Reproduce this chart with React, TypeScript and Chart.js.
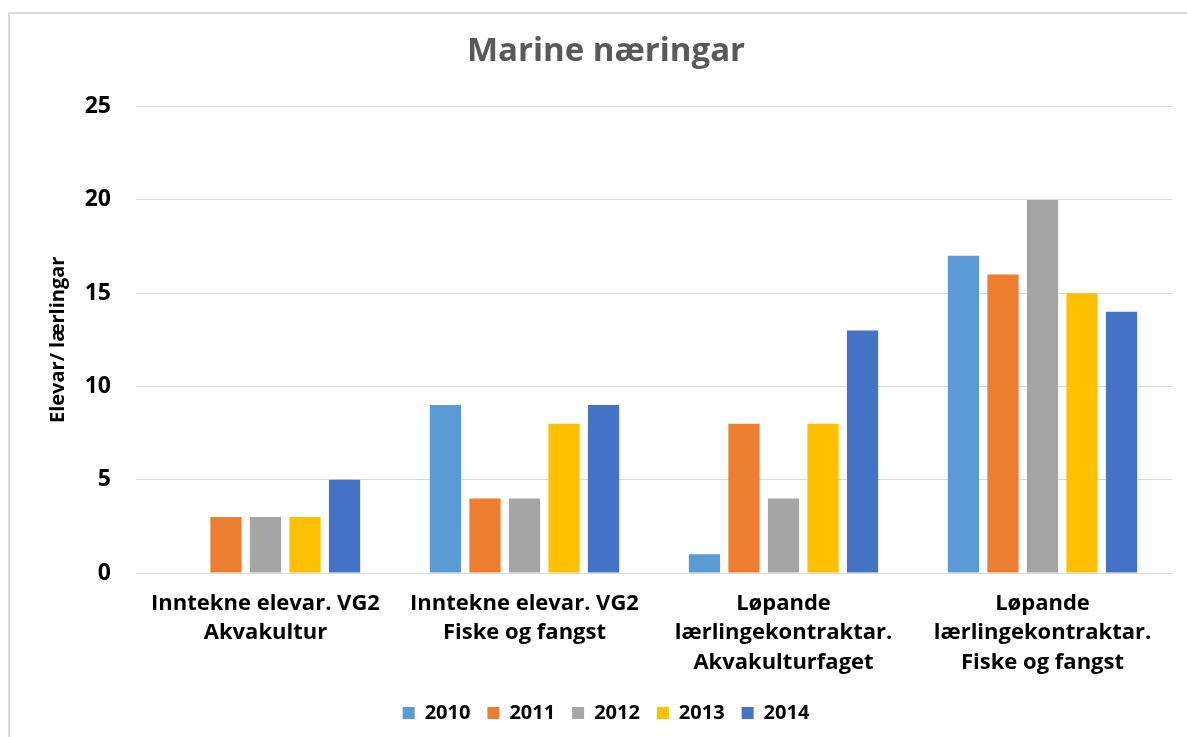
import React, { useEffect, useRef } from "react";
import { Chart, registerables } from "chart.js";

Chart.register(...registerables);

const categories: string[][] = [
  ["Inntekne elevar. VG2", "Akvakultur"],
  ["Inntekne elevar. VG2", "Fiske og fangst"],
  ["Løpande", "lærlingekontraktar.", "Akvakulturfaget"],
  ["Løpande", "lærlingekontraktar.", "Fiske og fangst"],
];
const years = ["2010", "2011", "2012", "2013", "2014"];
const values2010 = [0, 9, 1, 17];
const values2011 = [3, 4, 8, 16];
const values2012 = [3, 4, 4, 20];
const values2013 = [3, 8, 8, 15];
const values2014 = [5, 9, 13, 14];
const yTicks = [0, 5, 10, 15, 20, 25];
const colors = ["#5B9BD5", "#ED7D31", "#A5A5A5", "#FFC000", "#4472C4"];
const title = "Marine næringar";
const yTitle = "Elevar/ lærlingar";

const FONT = "'Open Sans', 'Noto Sans', sans-serif";

export default function App() {
  const ref = useRef<HTMLCanvasElement | null>(null);
  useEffect(() => {
    if (!ref.current) return;
    const series = [values2010, values2011, values2012, values2013, values2014];
    const chart = new Chart(ref.current, {
      type: "bar",
      data: {
        labels: categories,
        datasets: years.map((y, i) => ({
          label: y,
          data: series[i],
          backgroundColor: colors[i],
          borderWidth: 0,
          categoryPercentage: 0.763,
          barPercentage: 0.79,
        })),
      },
      options: {
        responsive: false,
        animation: false,
        layout: { padding: { left: 40, right: 15, top: 0, bottom: 4 } },
        plugins: {
          title: {
            display: true,
            text: title,
            color: "#595959",
            font: { family: FONT, size: 33, weight: "bold", lineHeight: 1.2 },
            padding: { top: 32, bottom: 35 },
          },
          legend: {
            position: "bottom",
            labels: {
              boxWidth: 12,
              boxHeight: 12,
              padding: 17,
              color: "#000000",
              font: { family: FONT, size: 20, weight: "bold" },
            },
          },
          tooltip: { enabled: false },
        },
        scales: {
          x: {
            grid: { display: false, drawTicks: false },
            border: { display: false },
            ticks: {
              color: "#000000",
              padding: 16,
              maxRotation: 0,
              autoSkip: false,
              font: { family: FONT, size: 22, weight: "bold", lineHeight: 1.34 },
            },
            afterFit: (s: any) => {
              s.height = 113;
            },
          },
          y: {
            min: 0,
            max: 25,
            afterBuildTicks: (s: any) => {
              s.ticks = yTicks.map((v) => ({ value: v }));
            },
            grid: { color: "#D9D9D9", lineWidth: 1, drawTicks: false },
            border: { display: false },
            ticks: {
              color: "#000000",
              padding: 25,
              font: { family: FONT, size: 23, weight: "bold" },
            },
            title: {
              display: true,
              text: yTitle,
              color: "#000000",
              padding: { top: 6, bottom: 0 },
              font: { family: FONT, size: 20, weight: "bold", lineHeight: 1.2 },
            },
            afterFit: (s: any) => {
              s.width = 96;
            },
          },
        },
      },
    });
    return () => chart.destroy();
  }, []);
  return (
    <div style={{ position: "fixed", left: 0, top: 0, width: 1187, height: 737, background: "#fff", overflow: "hidden" }}>
      <div
        style={{
          position: "absolute",
          left: 8,
          top: 12,
          width: 1200,
          height: 760,
          border: "2px solid #D9D9D9",
          boxSizing: "border-box",
        }}
      />
      <canvas ref={ref} width={1187} height={737} style={{ position: "absolute", left: 0, top: 0 }} />
    </div>
  );
}
